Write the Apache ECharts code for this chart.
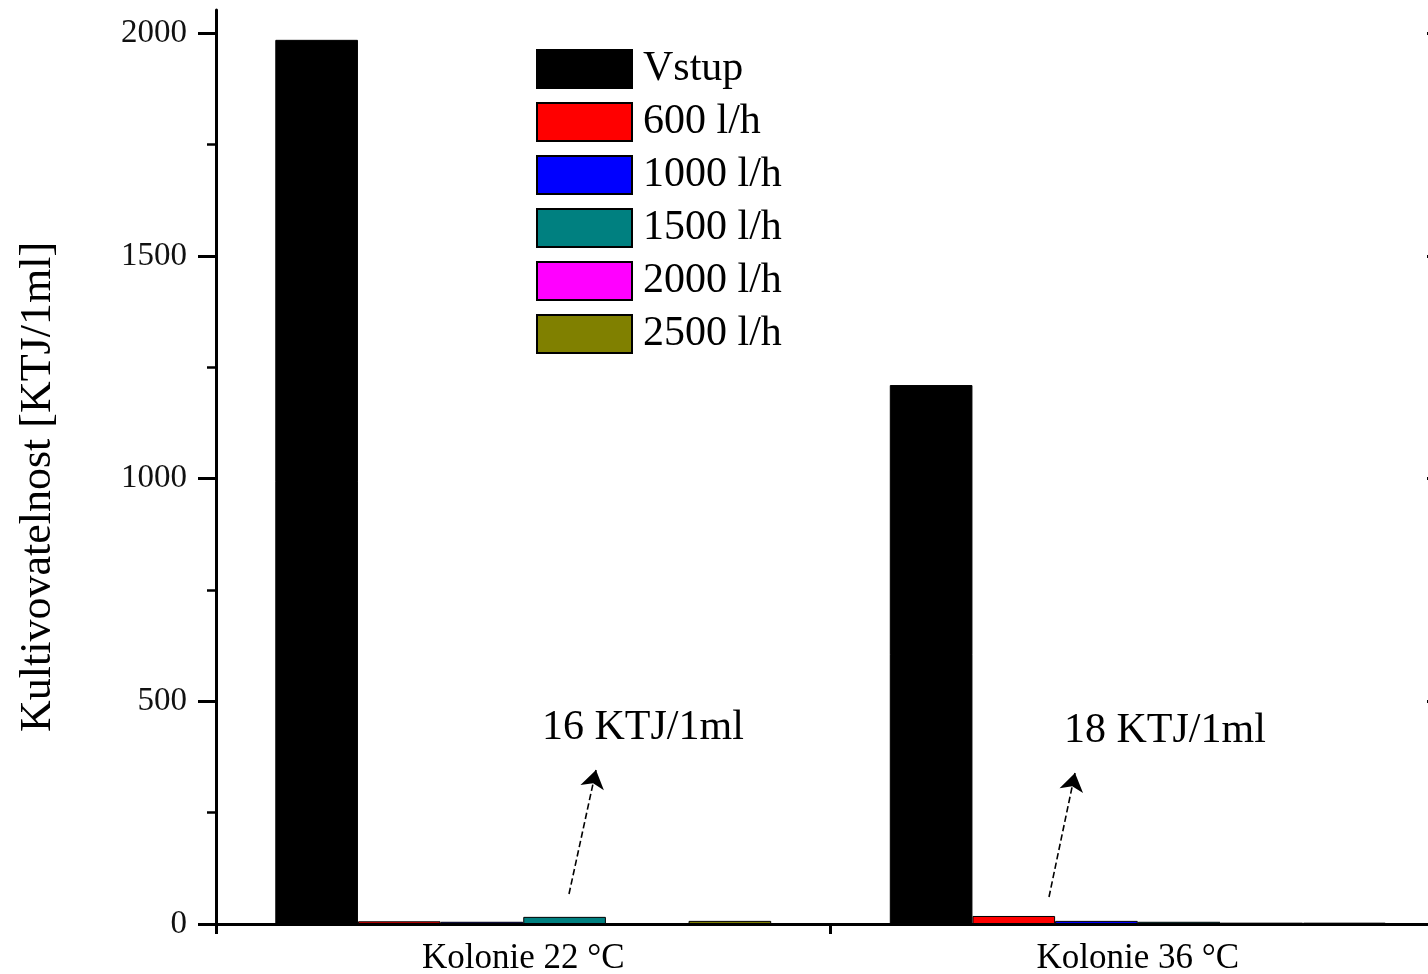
<!DOCTYPE html>
<html>
<head>
<meta charset="utf-8">
<script src="https://cdn.jsdelivr.net/npm/echarts@6/dist/echarts.min.js"></script>
<style>
  html, body { margin: 0; padding: 0; background: #fff; }
  #chart { width: 1428px; height: 974px; }
</style>
</head>
<body>
<div id="chart"></div>
<script>
// Viable bacteria counts before and after the columns at each flow rate
const categories = ['Kolonie 22 °C', 'Kolonie 36 °C'];
const seriesNames = ['Vstup', '600 l/h', '1000 l/h', '1500 l/h', '2000 l/h', '2500 l/h'];
const vstup  = [1985, 1210];
const q600   = [6, 18];
const q1000  = [5, 7];
const q1500  = [16, 5];
const q2000  = [0, 3];
const q2500  = [7, 3];
const yMajorTicks = [0, 500, 1000, 1500, 2000];
const yMinorTicks = [250, 750, 1250, 1750];
const unit = 'KTJ/1ml';

const colors = ['#000000', '#ff0000', '#0000ff', '#008080', '#ff00ff', '#808000'];
const values = [vstup, q600, q1000, q1500, q2000, q2500];
const FONT = "'Liberation Serif', 'Times New Roman', serif";

const chart = echarts.init(document.getElementById('chart'), null, { renderer: 'canvas' });

const series = seriesNames.map((name, i) => ({
  name: name,
  type: 'bar',
  xAxisIndex: 0,
  yAxisIndex: 0,
  data: values[i],
  barGap: '0%',
  barCategoryGap: '19.3%',
  itemStyle: { color: colors[i], borderColor: '#000', borderWidth: 1 },
  emphasis: { disabled: true },
  animation: false
}));

// dashed arrows pointing at the small bars that carry the value labels
function arrow(from, to) {
  return {
    silent: true,
    symbol: ['none', 'arrow'],
    symbolSize: 18,
    label: { show: false },
    lineStyle: { type: 'dashed', color: '#000', width: 1.6 },
    emphasis: { disabled: true },
    data: [[{ x: from[0], y: from[1] }, { x: to[0], y: to[1] }]],
    animation: false
  };
}
series[3].markLine = arrow([569, 894], [596, 770]);
series[1].markLine = arrow([1049, 897], [1075, 773]);

const option = {
  backgroundColor: '#fff',
  animation: false,
  grid: {
    left: 216, top: 10, width: 1229, height: 914,
    containLabel: false,
    outerBoundsMode: 'none'
  },
  legend: {
    orient: 'vertical',
    left: 536, top: 48,
    padding: 0,
    icon: 'rect',
    itemWidth: 95, itemHeight: 38, itemGap: 11,
    data: seriesNames,
    selectedMode: false,
    textStyle: { fontFamily: FONT, fontSize: 42, color: '#000', padding: [0, 0, 0, 6], lineHeight: 38 }
  },
  xAxis: [
    {
      type: 'category',
      position: 'bottom',
      data: categories,
      axisLine: { lineStyle: { color: '#000', width: 3 } },
      axisTick: { show: true, length: 10, lineStyle: { color: '#000', width: 3 } },
      axisLabel: { fontFamily: FONT, fontSize: 35, color: '#000', margin: 17 },
      splitLine: { show: false }
    },
    {
      type: 'category',
      position: 'top',
      data: categories,
      axisLine: { lineStyle: { color: '#000', width: 3 } },
      axisTick: { show: false },
      axisLabel: { show: false },
      splitLine: { show: false }
    }
  ],
  yAxis: [
    {
      type: 'value',
      position: 'left',
      min: 0, max: 2052,
      name: 'Kultivovatelnost [KTJ/1ml]',
      nameLocation: 'middle',
      nameGap: 156,
      nameRotate: 90,
      nameTextStyle: { fontFamily: FONT, fontSize: 44, color: '#000', padding: [0, 40, 0, 0] },
      axisLine: { show: true, lineStyle: { color: '#000', width: 3 } },
      axisTick: { show: true, length: 18, customValues: yMajorTicks, lineStyle: { color: '#000', width: 3 } },
      axisLabel: {
        customValues: yMajorTicks, fontFamily: FONT, fontSize: 33, color: '#111', margin: 29,
        formatter: (v) => String(v)
      },
      splitLine: { show: false }
    },
    {
      // minor ticks on the left spine
      type: 'value',
      position: 'left',
      min: 0, max: 2052,
      axisLine: { show: false },
      axisTick: { show: true, length: 9, customValues: yMinorTicks, lineStyle: { color: '#000', width: 2.5 } },
      axisLabel: { show: false },
      splitLine: { show: false }
    },
    {
      type: 'value',
      position: 'right',
      min: 0, max: 2052,
      axisLine: { show: true, lineStyle: { color: '#000', width: 3 } },
      axisTick: { show: true, inside: true, length: 18, customValues: yMajorTicks, lineStyle: { color: '#000', width: 3 } },
      axisLabel: { show: false },
      splitLine: { show: false }
    }
  ],
  series: series,
  graphic: [
    {
      type: 'text', silent: true, x: 542, y: 728,
      style: { text: q1500[0] + ' ' + unit, font: '42px ' + FONT, fill: '#000', align: 'left', verticalAlign: 'middle' }
    },
    {
      type: 'text', silent: true, x: 1064, y: 731,
      style: { text: q600[1] + ' ' + unit, font: '42px ' + FONT, fill: '#000', align: 'left', verticalAlign: 'middle' }
    }
  ]
};

chart.setOption(option);
</script>
</body>
</html>
